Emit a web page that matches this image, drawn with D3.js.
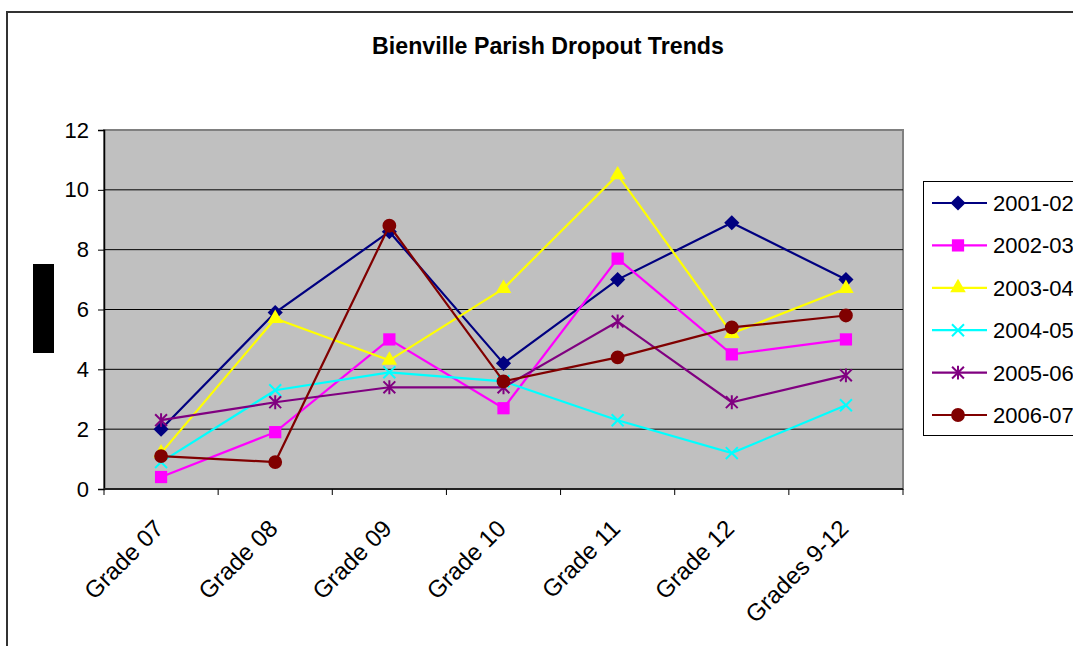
<!DOCTYPE html>
<html>
<head>
<meta charset="utf-8">
<script src="https://cdn.jsdelivr.net/npm/d3@7"></script>
<style>
body { margin: 0; background: #fff; }
text { font-family: Arial, "Liberation Sans", sans-serif; }
</style>
</head>
<body>
<div id="content"></div>
<script>
// chart data
var grades = ['Grade 07', 'Grade 08', 'Grade 09', 'Grade 10', 'Grade 11', 'Grade 12', 'Grades 9-12'];
var years = ['2001-02', '2002-03', '2003-04', '2004-05', '2005-06', '2006-07'];
var y2001 = [2.0, 5.9, 8.6, 4.2, 7.0, 8.9, 7.0];
var y2002 = [0.4, 1.9, 5.0, 2.7, 7.7, 4.5, 5.0];
var y2003 = [1.2, 5.7, 4.3, 6.7, 10.5, 5.2, 6.7];
var y2004 = [0.9, 3.3, 3.9, 3.6, 2.3, 1.2, 2.8];
var y2005 = [2.3, 2.9, 3.4, 3.4, 5.6, 2.9, 3.8];
var y2006 = [1.1, 0.9, 8.8, 3.6, 4.4, 5.4, 5.8];
var yTicks = [0, 2, 4, 6, 8, 10, 12];

var colors = ['#000080', '#ff00ff', '#ffff00', '#00ffff', '#800080', '#800000'];

// excel-like marker shapes
var diamond = {
    draw: function(ctx, size){
	var r = Math.sqrt(size) / 2;
	ctx.moveTo(0, -r); ctx.lineTo(r, 0); ctx.lineTo(0, r); ctx.lineTo(-r, 0); ctx.closePath();
    }
};
var star = {
    draw: function(ctx, size){
	var r = Math.sqrt(size) / 2;
	ctx.moveTo(-r, -r); ctx.lineTo(r, r);
	ctx.moveTo(-r, r); ctx.lineTo(r, -r);
	ctx.moveTo(0, -r - 1); ctx.lineTo(0, r + 1);
    }
};
var markers = [
    {type: diamond, size: 230, fill: true},
    {type: d3.symbolSquare, size: 150, fill: true},
    {type: d3.symbolTriangle, size: 105, fill: true},
    {type: d3.symbolX, size: 95, fill: false},
    {type: star, size: 140, fill: false},
    {type: d3.symbolCircle, size: 150, fill: true}
];

var W = 1073, H = 646;
var plot = {left: 104, right: 903, top: 130, bottom: 489};

var svg = d3.select('#content').append('svg')
    .attr('width', W).attr('height', H);

// chart area border
svg.append('rect')
    .attr('x', 7).attr('y', 12)
    .attr('width', 1200).attr('height', 800)
    .attr('fill', '#fff').attr('stroke', '#333').attr('stroke-width', 2);

svg.append('text')
    .attr('x', 548).attr('y', 54)
    .attr('text-anchor', 'middle')
    .attr('font-size', 23.2).attr('font-weight', 'bold')
    .text('Bienville Parish Dropout Trends');

// the blacked out axis title
svg.append('rect')
    .attr('x', 33).attr('y', 264).attr('width', 21).attr('height', 89)
    .attr('fill', '#000');

var x = d3.scaleBand().domain(grades).range([plot.left, plot.right]).padding(0);
var y = d3.scaleLinear().domain([0, 12]).range([plot.bottom, plot.top]);
function cx(g){
    return x(g) + x.bandwidth() / 2;
}

svg.append('rect')
    .attr('x', plot.left).attr('y', plot.top)
    .attr('width', plot.right - plot.left).attr('height', plot.bottom - plot.top)
    .attr('fill', '#c0c0c0').attr('stroke', '#808080').attr('stroke-width', 2);

// gridlines
svg.append('g')
    .selectAll('line')
    .data(yTicks.slice(1, -1))
    .enter()
    .append('line')
    .attr('x1', plot.left).attr('x2', plot.right)
    .attr('y1', function(d){ return y(d); })
    .attr('y2', function(d){ return y(d); })
    .attr('stroke', '#000').attr('stroke-width', 1);

// y axis
var yAxis = svg.append('g')
    .attr('transform', 'translate(' + plot.left + ',0)')
    .call(d3.axisLeft(y).tickValues(yTicks).tickSize(6).tickPadding(9));
yAxis.select('.domain').attr('stroke', '#000').attr('stroke-width', 1.5);
yAxis.selectAll('.tick line').attr('stroke', '#000');
yAxis.selectAll('text').attr('font-size', 22).attr('font-family', 'Arial, "Liberation Sans", sans-serif')
    .attr('fill', '#000');

// x axis: ticks sit on the band edges
var edges = grades.map(function(g){ return x(g); }).concat([plot.right]);
svg.append('line')
    .attr('x1', plot.left).attr('x2', plot.right)
    .attr('y1', plot.bottom).attr('y2', plot.bottom)
    .attr('stroke', '#222').attr('stroke-width', 2);
svg.append('g')
    .selectAll('line')
    .data(edges)
    .enter()
    .append('line')
    .attr('x1', function(d){ return d; })
    .attr('x2', function(d){ return d; })
    .attr('y1', plot.bottom).attr('y2', plot.bottom + 6)
    .attr('stroke', '#000');
svg.append('g')
    .selectAll('text')
    .data(grades)
    .enter()
    .append('text')
    .attr('transform', function(g){
	return 'translate(' + (cx(g) - 2) + ',' + 524 + ') rotate(-45)';
    })
    .attr('text-anchor', 'end')
    .attr('dy', '0.35em')
    .attr('font-size', 24)
    .text(function(g){ return g; });

// series
var series = [y2001, y2002, y2003, y2004, y2005, y2006].map(function(vals, i){
    return {name: years[i], color: colors[i], marker: markers[i],
	    points: vals.map(function(v, j){ return {g: grades[j], v: v}; })};
});
var line = d3.line()
    .x(function(p){ return cx(p.g); })
    .y(function(p){ return y(p.v); });

function drawMarker(sel, s){
    sel.attr('d', d3.symbol().type(s.marker.type).size(s.marker.size))
	.attr('fill', s.marker.fill ? s.color : 'none')
	.attr('stroke', s.color)
	.attr('stroke-width', s.marker.fill ? 0 : 2);
}

series.forEach(function(s){
    var g = svg.append('g');
    g.append('path')
	.attr('d', line(s.points))
	.attr('fill', 'none')
	.attr('stroke', s.color)
	.attr('stroke-width', 2.2);
    g.selectAll('path.pt')
	.data(s.points)
	.enter()
	.append('path')
	.attr('class', 'pt')
	.attr('transform', function(p){ return 'translate(' + cx(p.g) + ',' + y(p.v) + ')'; })
	.call(drawMarker, s);
});

// legend
var leg = svg.append('g');
leg.append('rect')
    .attr('x', 923.5).attr('y', 181.5).attr('width', 200).attr('height', 254)
    .attr('fill', '#fff').attr('stroke', '#000').attr('stroke-width', 1);
var items = leg.selectAll('g')
    .data(series)
    .enter()
    .append('g')
    .attr('transform', function(s, i){ return 'translate(0,' + (203 + i * 42.4) + ')'; });
items.append('line')
    .attr('x1', 932).attr('x2', 987)
    .attr('stroke', function(s){ return s.color; })
    .attr('stroke-width', 2.2);
items.append('path')
    .attr('transform', 'translate(958,0)')
    .each(function(s){ d3.select(this).call(drawMarker, s); });
items.append('text')
    .attr('x', 993).attr('dy', '0.36em')
    .attr('font-size', 22)
    .text(function(s){ return s.name; });
</script>
</body>
</html>
